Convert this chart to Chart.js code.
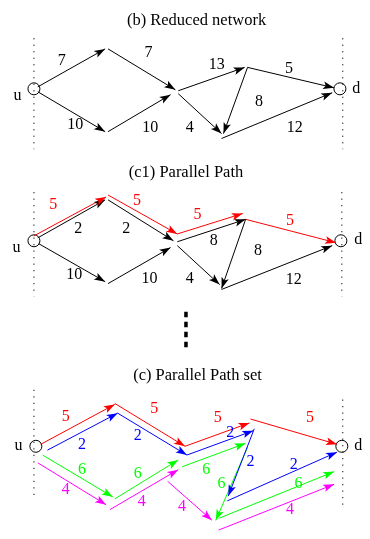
<!DOCTYPE html>
<html><head><meta charset="utf-8">
<script src="https://cdn.jsdelivr.net/npm/chart.js@4"></script>
<style>html,body{margin:0;padding:0;background:#fff}#wrap{width:370px;height:539px}</style>
</head><body><div id="wrap"><canvas id="c"></canvas></div>
<script>
// ---- data (diagram units) ----
const panelTitles = ["(b) Reduced network", "(c1) Parallel Path", "(c) Parallel Path set"];
const titlePos = [[197,14],[186,170],[198,378]];

// source / sink nodes per panel
const uNodes = [[28,84],[28,240],[30,451]];
const dNodes = [[346,84],[347,240],[348,451]];
const uLabelPos = [[11,91],[10,247],[12,451]];
const dLabelPos = [[363,84],[365,239],[365,451]];

// dotted boundary lines [x, yTop, yBottom]
const leftDots = [[28,32,146],[28,190,297],[28,393,506]];
const rightDots = [[349,32,146],[348,190,297],[349,403,513]];

// panel (b) edges [x1,y1,x2,y2] and capacities
const bEdges = [[32,82,102,43],[105,43,175,85],[32,87,102,128],[105,128,170,90],
  [178,86,247,62],[250,62,340,83],[178,89,223,130],[250,62,225,130],[223,135,338,88]];
const bCaps = ["7","7","10","10","13","5","4","8","12"];
const bCapPos = [[57,55],[147,47],[71,121],[149,124],[218,59],[293,63],[190,124],[262,97],[299,124]];

// panel (c1) residual edges (black) and path (red)
const c1Edges = [[32,237,102,198],[105,198,173,240],[33,243,102,282],[105,284,170,247],
  [177,241,248,218],[177,245,221,285],[248,218,223,289],[223,290,338,245]];
const c1Caps = ["2","2","10","10","8","4","8","12"];
const c1CapPos = [[74,228],[124,228],[70,275],[148,279],[215,240],[190,279],[261,250],[298,280]];
const c1Path = [[28,235,103,195],[105,193,177,233],[177,233,245,212],[248,218,342,242]];
const c1PathFlow = ["5","5","5","5"];
const c1PathPos = [[48,203],[135,199],[198,213],[294,220]];

// panel (c) path set
const redPath = [[35,449,112,408],[112,407,185,451],[185,451,252,427],[253,423,343,449]];
const redFlow = ["5","5","5","5"];
const redPos = [[61,421],[153,412],[219,422],[315,422]];
const bluePath = [[42,455,115,417],[115,417,187,460],[187,460,256,435],[257,433,230,502],[229,507,343,457]];
const blueFlow = ["2","2","2","2","2"];
const bluePos = [[78,449],[136,440],[232,437],[253,467],[298,470]];
const greenPath = [[37,460,110,503],[112,505,178,465],[182,472,248,448],[250,452,217,527],[220,525,340,477]];
const greenFlow = ["6","6","6","6","6"];
const greenPos = [[78,475],[136,479],[207,475],[223,490],[303,490]];
const magentaPath = [[32,468,103,511],[107,516,178,475],[167,487,213,527],[220,537,340,490]];
const magentaFlow = ["4","4","4","4"];
const magentaPos = [[61,496],[140,508],[182,513],[294,516]];

// vertical ellipsis between panels [x, yTop, yBottom]
const vdots = [186,313,350];

// ---- build ----
const datasets = [];
function addEdges(list, color){
  list.forEach(e=>datasets.push({data:[{x:e[0],y:e[1]},{x:e[2],y:e[3]}],showLine:true,
    borderColor:color,borderWidth:1,pointRadius:0,arrow:true,clip:false}));
}
function addDots(list){
  list.forEach(d=>datasets.push({data:[{x:d[0],y:d[1]},{x:d[0],y:d[2]}],showLine:true,
    borderColor:'#000',borderWidth:1,borderDash:[1.2,5.3],pointRadius:0,clip:false}));
}
addDots(leftDots); addDots(rightDots);
datasets.push({data:[{x:vdots[0],y:vdots[1]},{x:vdots[0],y:vdots[2]}],showLine:true,
  borderColor:'#000',borderWidth:3.5,borderDash:[5.5,4.5],pointRadius:0,clip:false});
addEdges(bEdges,'#000'); addEdges(c1Edges,'#000'); addEdges(c1Path,'#ff0000');
addEdges(redPath,'#ff0000'); addEdges(bluePath,'#0000ff'); addEdges(greenPath,'#00ff00'); addEdges(magentaPath,'#ff00ff');
datasets.push({data:uNodes.concat(dNodes).map(p=>({x:p[0],y:p[1]})),showLine:false,pointRadius:6,
  pointBorderColor:'#000',pointBackgroundColor:'rgba(0,0,0,0)',pointBorderWidth:1,clip:false});

const textGroups = [
  {t:panelTitles,p:titlePos,c:'#000'},
  {t:['u','u','u'],p:uLabelPos,c:'#000'},
  {t:['d','d','d'],p:dLabelPos,c:'#000'},
  {t:bCaps,p:bCapPos,c:'#000'},
  {t:c1Caps,p:c1CapPos,c:'#000'},
  {t:c1PathFlow,p:c1PathPos,c:'#ff0000'},
  {t:redFlow,p:redPos,c:'#ff0000'},
  {t:blueFlow,p:bluePos,c:'#0000ff'},
  {t:greenFlow,p:greenPos,c:'#00ff00'},
  {t:magentaFlow,p:magentaPos,c:'#ff00ff'}
];

const diagramPlugin = {
  id:'diagram',
  afterDatasetsDraw(chart){
    const ctx = chart.ctx;
    ctx.save();
    chart.data.datasets.forEach((ds,i)=>{
      if(!ds.arrow) return;
      const pts = chart.getDatasetMeta(i).data;
      const a = pts[0], b = pts[1];
      const ang = Math.atan2(b.y-a.y, b.x-a.x);
      const L = 11, W = 3.8;
      ctx.fillStyle = ds.borderColor;
      ctx.beginPath();
      ctx.moveTo(b.x,b.y);
      ctx.lineTo(b.x - L*Math.cos(ang) + W*Math.sin(ang), b.y - L*Math.sin(ang) - W*Math.cos(ang));
      ctx.lineTo(b.x - 0.78*L*Math.cos(ang), b.y - 0.78*L*Math.sin(ang));
      ctx.lineTo(b.x - L*Math.cos(ang) - W*Math.sin(ang), b.y - L*Math.sin(ang) + W*Math.cos(ang));
      ctx.closePath();
      ctx.fill();
    });
    const xs = chart.scales.x, ys = chart.scales.y;
    ctx.textAlign='center'; ctx.textBaseline='middle';
    textGroups.forEach((g,gi)=>{
      ctx.font = (gi===0?'16.5px':'16px') + ' "Liberation Serif", "Times New Roman", serif';
      ctx.fillStyle = g.c;
      g.t.forEach((s,k)=>ctx.fillText(s, xs.getPixelForValue(g.p[k][0]), ys.getPixelForValue(g.p[k][1])));
    });
    ctx.restore();
  }
};

new Chart(document.getElementById('c'),{
  type:'scatter',
  data:{datasets},
  options:{
    responsive:true, maintainAspectRatio:false, animation:false, events:[],
    layout:{padding:0},
    plugins:{legend:{display:false},tooltip:{enabled:false}},
    scales:{
      x:{type:'linear',min:0,max:370,display:false},
      y:{type:'linear',min:0,max:539,reverse:true,display:false}
    }
  },
  plugins:[diagramPlugin]
});
</script>
</body></html>
